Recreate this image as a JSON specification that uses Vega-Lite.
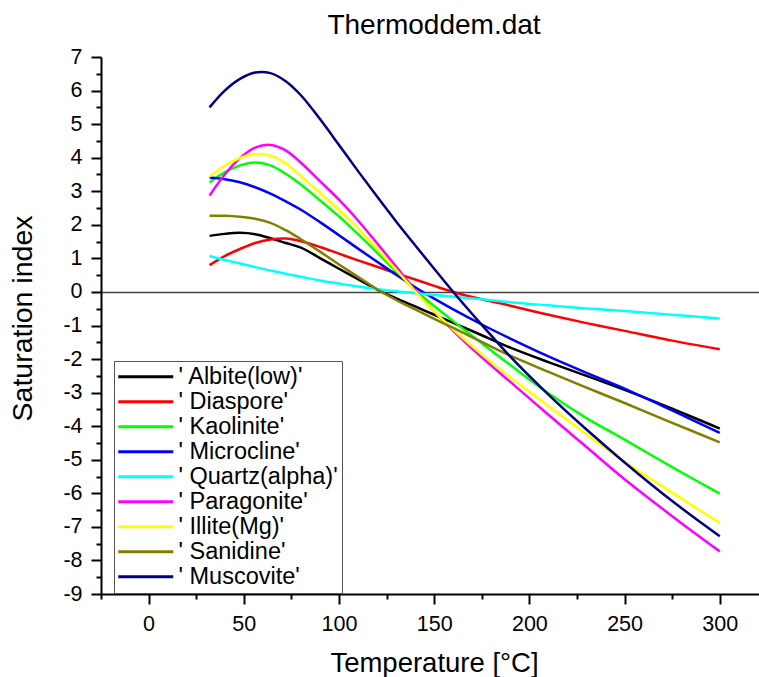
{
  "$schema": "https://vega.github.io/schema/vega-lite/v6.json",
  "width": 658,
  "height": 537,
  "autosize": {"type": "none"},
  "padding": {"left": 101, "top": 57, "right": 0, "bottom": 83},
  "background": "white",
  "title": {"text": "Thermoddem.dat", "fontSize": 28, "font": "Liberation Sans", "fontWeight": "normal", "color": "black", "anchor": "middle", "offset": 6, "dx": 4},
  "config": {"view": {"stroke": null}, "font": "Liberation Sans", "axis": {"labelOverlap": false, "labelFlush": false}},
  "datasets": {
    "sat": [
      {"T":32,"s":"' Albite(low)'","v":1.67},{"T":40,"s":"' Albite(low)'","v":1.73},{"T":48,"s":"' Albite(low)'","v":1.76},{"T":56,"s":"' Albite(low)'","v":1.72},{"T":64,"s":"' Albite(low)'","v":1.60},{"T":72,"s":"' Albite(low)'","v":1.46},{"T":80,"s":"' Albite(low)'","v":1.32},{"T":90,"s":"' Albite(low)'","v":1.01},{"T":100,"s":"' Albite(low)'","v":0.69},{"T":110,"s":"' Albite(low)'","v":0.38},{"T":120,"s":"' Albite(low)'","v":0.07},{"T":130,"s":"' Albite(low)'","v":-0.19},{"T":140,"s":"' Albite(low)'","v":-0.43},{"T":150,"s":"' Albite(low)'","v":-0.68},{"T":160,"s":"' Albite(low)'","v":-0.92},{"T":175,"s":"' Albite(low)'","v":-1.29},{"T":190,"s":"' Albite(low)'","v":-1.66},{"T":210,"s":"' Albite(low)'","v":-2.09},{"T":230,"s":"' Albite(low)'","v":-2.50},{"T":250,"s":"' Albite(low)'","v":-2.92},{"T":275,"s":"' Albite(low)'","v":-3.48},{"T":300,"s":"' Albite(low)'","v":-4.07},
      {"T":32,"s":"' Diaspore'","v":0.80},{"T":40,"s":"' Diaspore'","v":1.07},{"T":48,"s":"' Diaspore'","v":1.28},{"T":56,"s":"' Diaspore'","v":1.46},{"T":64,"s":"' Diaspore'","v":1.56},{"T":72,"s":"' Diaspore'","v":1.59},{"T":80,"s":"' Diaspore'","v":1.51},{"T":90,"s":"' Diaspore'","v":1.34},{"T":100,"s":"' Diaspore'","v":1.14},{"T":110,"s":"' Diaspore'","v":0.94},{"T":120,"s":"' Diaspore'","v":0.75},{"T":130,"s":"' Diaspore'","v":0.56},{"T":140,"s":"' Diaspore'","v":0.37},{"T":150,"s":"' Diaspore'","v":0.18},{"T":160,"s":"' Diaspore'","v":0.00},{"T":175,"s":"' Diaspore'","v":-0.22},{"T":190,"s":"' Diaspore'","v":-0.41},{"T":210,"s":"' Diaspore'","v":-0.68},{"T":230,"s":"' Diaspore'","v":-0.93},{"T":250,"s":"' Diaspore'","v":-1.16},{"T":275,"s":"' Diaspore'","v":-1.45},{"T":300,"s":"' Diaspore'","v":-1.71},
      {"T":32,"s":"' Kaolinite'","v":3.27},{"T":40,"s":"' Kaolinite'","v":3.56},{"T":48,"s":"' Kaolinite'","v":3.77},{"T":56,"s":"' Kaolinite'","v":3.86},{"T":64,"s":"' Kaolinite'","v":3.77},{"T":72,"s":"' Kaolinite'","v":3.52},{"T":80,"s":"' Kaolinite'","v":3.20},{"T":90,"s":"' Kaolinite'","v":2.73},{"T":100,"s":"' Kaolinite'","v":2.25},{"T":110,"s":"' Kaolinite'","v":1.72},{"T":120,"s":"' Kaolinite'","v":1.17},{"T":130,"s":"' Kaolinite'","v":0.61},{"T":140,"s":"' Kaolinite'","v":0.05},{"T":150,"s":"' Kaolinite'","v":-0.42},{"T":160,"s":"' Kaolinite'","v":-0.87},{"T":175,"s":"' Kaolinite'","v":-1.53},{"T":190,"s":"' Kaolinite'","v":-2.18},{"T":210,"s":"' Kaolinite'","v":-3.02},{"T":230,"s":"' Kaolinite'","v":-3.76},{"T":250,"s":"' Kaolinite'","v":-4.40},{"T":275,"s":"' Kaolinite'","v":-5.22},{"T":300,"s":"' Kaolinite'","v":-6.01},
      {"T":32,"s":"' Microcline'","v":3.41},{"T":40,"s":"' Microcline'","v":3.36},{"T":48,"s":"' Microcline'","v":3.27},{"T":56,"s":"' Microcline'","v":3.12},{"T":64,"s":"' Microcline'","v":2.93},{"T":72,"s":"' Microcline'","v":2.70},{"T":80,"s":"' Microcline'","v":2.45},{"T":90,"s":"' Microcline'","v":2.08},{"T":100,"s":"' Microcline'","v":1.69},{"T":110,"s":"' Microcline'","v":1.29},{"T":120,"s":"' Microcline'","v":0.90},{"T":130,"s":"' Microcline'","v":0.51},{"T":140,"s":"' Microcline'","v":0.14},{"T":150,"s":"' Microcline'","v":-0.20},{"T":160,"s":"' Microcline'","v":-0.52},{"T":175,"s":"' Microcline'","v":-0.97},{"T":190,"s":"' Microcline'","v":-1.39},{"T":210,"s":"' Microcline'","v":-1.92},{"T":230,"s":"' Microcline'","v":-2.41},{"T":250,"s":"' Microcline'","v":-2.88},{"T":275,"s":"' Microcline'","v":-3.53},{"T":300,"s":"' Microcline'","v":-4.20},
      {"T":32,"s":"' Quartz(alpha)'","v":1.07},{"T":40,"s":"' Quartz(alpha)'","v":0.95},{"T":48,"s":"' Quartz(alpha)'","v":0.85},{"T":56,"s":"' Quartz(alpha)'","v":0.74},{"T":64,"s":"' Quartz(alpha)'","v":0.64},{"T":72,"s":"' Quartz(alpha)'","v":0.54},{"T":80,"s":"' Quartz(alpha)'","v":0.45},{"T":90,"s":"' Quartz(alpha)'","v":0.34},{"T":100,"s":"' Quartz(alpha)'","v":0.25},{"T":110,"s":"' Quartz(alpha)'","v":0.16},{"T":120,"s":"' Quartz(alpha)'","v":0.08},{"T":130,"s":"' Quartz(alpha)'","v":0.02},{"T":140,"s":"' Quartz(alpha)'","v":-0.04},{"T":150,"s":"' Quartz(alpha)'","v":-0.09},{"T":160,"s":"' Quartz(alpha)'","v":-0.14},{"T":175,"s":"' Quartz(alpha)'","v":-0.22},{"T":190,"s":"' Quartz(alpha)'","v":-0.31},{"T":210,"s":"' Quartz(alpha)'","v":-0.40},{"T":230,"s":"' Quartz(alpha)'","v":-0.49},{"T":250,"s":"' Quartz(alpha)'","v":-0.57},{"T":275,"s":"' Quartz(alpha)'","v":-0.68},{"T":300,"s":"' Quartz(alpha)'","v":-0.79},
      {"T":32,"s":"' Paragonite'","v":2.87},{"T":40,"s":"' Paragonite'","v":3.50},{"T":48,"s":"' Paragonite'","v":3.99},{"T":56,"s":"' Paragonite'","v":4.30},{"T":64,"s":"' Paragonite'","v":4.38},{"T":72,"s":"' Paragonite'","v":4.22},{"T":80,"s":"' Paragonite'","v":3.85},{"T":90,"s":"' Paragonite'","v":3.30},{"T":100,"s":"' Paragonite'","v":2.75},{"T":110,"s":"' Paragonite'","v":2.13},{"T":120,"s":"' Paragonite'","v":1.45},{"T":130,"s":"' Paragonite'","v":0.76},{"T":140,"s":"' Paragonite'","v":0.05},{"T":150,"s":"' Paragonite'","v":-0.58},{"T":160,"s":"' Paragonite'","v":-1.16},{"T":175,"s":"' Paragonite'","v":-1.95},{"T":190,"s":"' Paragonite'","v":-2.68},{"T":210,"s":"' Paragonite'","v":-3.66},{"T":230,"s":"' Paragonite'","v":-4.62},{"T":250,"s":"' Paragonite'","v":-5.58},{"T":275,"s":"' Paragonite'","v":-6.68},{"T":300,"s":"' Paragonite'","v":-7.73},
      {"T":32,"s":"' Illite(Mg)'","v":3.44},{"T":40,"s":"' Illite(Mg)'","v":3.76},{"T":48,"s":"' Illite(Mg)'","v":3.99},{"T":56,"s":"' Illite(Mg)'","v":4.11},{"T":64,"s":"' Illite(Mg)'","v":4.06},{"T":72,"s":"' Illite(Mg)'","v":3.83},{"T":80,"s":"' Illite(Mg)'","v":3.45},{"T":90,"s":"' Illite(Mg)'","v":2.95},{"T":100,"s":"' Illite(Mg)'","v":2.45},{"T":110,"s":"' Illite(Mg)'","v":1.90},{"T":120,"s":"' Illite(Mg)'","v":1.29},{"T":130,"s":"' Illite(Mg)'","v":0.66},{"T":140,"s":"' Illite(Mg)'","v":0.02},{"T":150,"s":"' Illite(Mg)'","v":-0.58},{"T":160,"s":"' Illite(Mg)'","v":-1.12},{"T":175,"s":"' Illite(Mg)'","v":-1.86},{"T":190,"s":"' Illite(Mg)'","v":-2.55},{"T":210,"s":"' Illite(Mg)'","v":-3.40},{"T":230,"s":"' Illite(Mg)'","v":-4.24},{"T":250,"s":"' Illite(Mg)'","v":-5.06},{"T":275,"s":"' Illite(Mg)'","v":-5.98},{"T":300,"s":"' Illite(Mg)'","v":-6.88},
      {"T":32,"s":"' Sanidine'","v":2.27},{"T":40,"s":"' Sanidine'","v":2.27},{"T":48,"s":"' Sanidine'","v":2.24},{"T":56,"s":"' Sanidine'","v":2.18},{"T":64,"s":"' Sanidine'","v":2.06},{"T":72,"s":"' Sanidine'","v":1.84},{"T":80,"s":"' Sanidine'","v":1.57},{"T":90,"s":"' Sanidine'","v":1.20},{"T":100,"s":"' Sanidine'","v":0.82},{"T":110,"s":"' Sanidine'","v":0.45},{"T":120,"s":"' Sanidine'","v":0.08},{"T":130,"s":"' Sanidine'","v":-0.24},{"T":140,"s":"' Sanidine'","v":-0.52},{"T":150,"s":"' Sanidine'","v":-0.80},{"T":160,"s":"' Sanidine'","v":-1.07},{"T":175,"s":"' Sanidine'","v":-1.49},{"T":190,"s":"' Sanidine'","v":-1.90},{"T":210,"s":"' Sanidine'","v":-2.38},{"T":230,"s":"' Sanidine'","v":-2.85},{"T":250,"s":"' Sanidine'","v":-3.31},{"T":275,"s":"' Sanidine'","v":-3.90},{"T":300,"s":"' Sanidine'","v":-4.48},
      {"T":32,"s":"' Muscovite'","v":5.50},{"T":40,"s":"' Muscovite'","v":6.00},{"T":48,"s":"' Muscovite'","v":6.35},{"T":56,"s":"' Muscovite'","v":6.54},{"T":64,"s":"' Muscovite'","v":6.52},{"T":72,"s":"' Muscovite'","v":6.28},{"T":80,"s":"' Muscovite'","v":5.86},{"T":90,"s":"' Muscovite'","v":5.15},{"T":100,"s":"' Muscovite'","v":4.38},{"T":110,"s":"' Muscovite'","v":3.60},{"T":120,"s":"' Muscovite'","v":2.84},{"T":130,"s":"' Muscovite'","v":2.10},{"T":140,"s":"' Muscovite'","v":1.39},{"T":150,"s":"' Muscovite'","v":0.69},{"T":160,"s":"' Muscovite'","v":0.00},{"T":175,"s":"' Muscovite'","v":-0.98},{"T":190,"s":"' Muscovite'","v":-1.93},{"T":210,"s":"' Muscovite'","v":-3.06},{"T":230,"s":"' Muscovite'","v":-4.10},{"T":250,"s":"' Muscovite'","v":-5.08},{"T":275,"s":"' Muscovite'","v":-6.23},{"T":300,"s":"' Muscovite'","v":-7.28}
    ]
  },
  "data": {"name": "sat"},
  "mark": {"type": "line", "interpolate": "catmull-rom", "strokeWidth": 2.5},
  "encoding": {
    "x": {
      "field": "T", "type": "quantitative",
      "scale": {"domain": [-25, 320.6], "nice": false, "zero": false},
      "axis": {
        "title": "Temperature [°C]",
        "titleFont": "Liberation Sans", "titleFontSize": 27.5, "titleFontWeight": "normal", "titleColor": "black",
        "titleX": 333, "titleY": 77, "titleBaseline": "alphabetic", "titleAnchor": "middle", "titleAlign": "center",
        "values": [-25, 0, 25, 50, 75, 100, 125, 150, 175, 200, 225, 250, 275, 300],
        "labelExpr": "datum.value % 50 === 0 ? '' + datum.value : ''",
        "labelFont": "Liberation Sans", "labelFontSize": 21.5, "labelColor": "black", "labelPadding": 9, "labelFlush": false, "labelOverlap": false,
        "tickSize": {"condition": {"test": "datum.value % 50 === 0", "value": 10}, "value": 5},
        "tickColor": "black", "tickWidth": 2,
        "domainColor": "black", "domainWidth": 2,
        "grid": false
      }
    },
    "y": {
      "field": "v", "type": "quantitative",
      "scale": {"domain": [-9, 7], "nice": false, "zero": false},
      "axis": {
        "title": "Saturation index",
        "titleFont": "Liberation Sans", "titleFontSize": 28.5, "titleFontWeight": "normal", "titleColor": "black",
        "titleX": -69.5, "titleY": 261, "titleBaseline": "alphabetic", "titleAngle": 270, "titleAlign": "center", "titleAnchor": "middle",
        "values": [-9, -8.5, -8, -7.5, -7, -6.5, -6, -5.5, -5, -4.5, -4, -3.5, -3, -2.5, -2, -1.5, -1, -0.5, 0, 0.5, 1, 1.5, 2, 2.5, 3, 3.5, 4, 4.5, 5, 5.5, 6, 6.5, 7],
        "labelExpr": "datum.value % 1 === 0 ? '' + datum.value : ''",
        "labelFont": "Liberation Sans",
        "labelFontSize": {"condition": {"test": "datum.value % 1 === 0", "value": 21.5}, "value": 0},
        "labelColor": "black", "labelPadding": 9, "labelFlush": false, "labelOverlap": false,
        "tickSize": {"condition": {"test": "datum.value % 1 === 0", "value": 10}, "value": 5},
        "tickColor": "black", "tickWidth": 2,
        "domainColor": "black", "domainWidth": 2,
        "grid": true,
        "gridColor": "#444444",
        "gridWidth": 1.5,
        "gridOpacity": {"condition": {"test": "datum.value === 0", "value": 1}, "value": 0}
      }
    },
    "color": {
      "field": "s", "type": "nominal",
      "scale": {
        "domain": ["' Albite(low)'", "' Diaspore'", "' Kaolinite'", "' Microcline'", "' Quartz(alpha)'", "' Paragonite'", "' Illite(Mg)'", "' Sanidine'", "' Muscovite'"],
        "range": ["#000000", "#ff0000", "#00ff00", "#0000ff", "#00ffff", "#ff00ff", "#ffff00", "#808000", "#000080"]
      },
      "legend": {
        "orient": "none", "legendX": 13, "legendY": 304, "title": null,
        "symbolType": "M-2.75,0H2.75", "symbolSize": 400, "symbolStrokeWidth": 3, "symbolOffset": 16,
        "labelFont": "Liberation Sans", "labelFontSize": 23.5, "labelColor": "black", "labelOffset": 21, "labelLimit": 400,
        "strokeColor": "#555555", "fillColor": "white", "padding": 4, "rowPadding": 0
      }
    }
  }
}
